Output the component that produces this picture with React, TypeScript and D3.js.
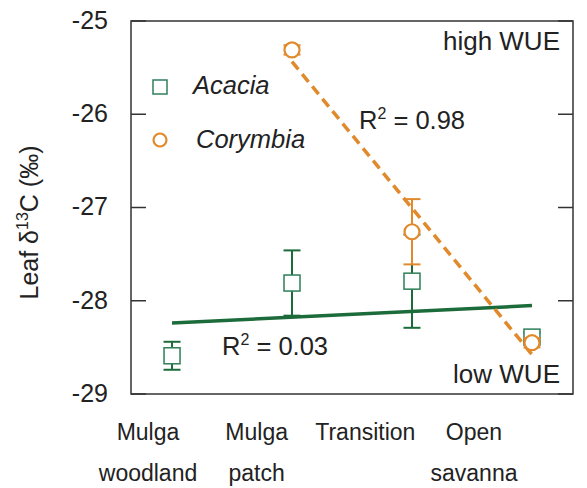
import * as d3 from "d3";

const sites = ["Mulga woodland", "Mulga patch", "Transition", "Open savanna"];
const siteLines = [["Mulga", "woodland"], ["Mulga", "patch"], ["Transition"], ["Open", "savanna"]];

const acaciaMean = [-28.59, -27.81, -27.79, -28.39];
const acaciaErr = [0.15, 0.35, 0.5, 0.05];
const corymbiaSites = ["Mulga patch", "Transition", "Open savanna"];
const corymbiaMean = [-25.31, -27.26, -28.45];
const corymbiaErr = [0.05, 0.35, 0.05];

const yTicks = [-25, -26, -27, -28, -29];

const green = "#1c6b3a";
const greenMarker = "#2f7f58";
const orange = "#e08a2c";
const textCol = "#222";
const font = "Liberation Sans, Arial, sans-serif";

const width = 587, height = 488;
const left = 131, right = 573, top = 21, bottom = 394;

// simple least squares on the site index
function fit(xs: number[], ys: number[]) {
    const mx = d3.mean(xs)!, my = d3.mean(ys)!;
    const num = d3.sum(xs, (x, i) => (x - mx) * (ys[i] - my));
    const den = d3.sum(xs, x => (x - mx) * (x - mx));
    const b = num / den;
    return (x: number) => my + b * (x - mx);
}

export default function App() {
    const x = d3.scalePoint<string>().domain(sites).range([left, right]).padding(0.342);
    const xLab = d3.scalePoint<string>().domain(sites).range([148, 474]);
    const y = d3.scaleLinear().domain([-25, -29]).range([top, bottom]);

    const accIdx = acaciaMean.map((_, i) => i);
    const accFit = fit(accIdx, acaciaMean);
    const corIdx = corymbiaSites.map(s => sites.indexOf(s));
    const corFit = fit(corIdx, corymbiaMean);

    const line = d3.line<number[]>().x(d => x(sites[d[0]])!).y(d => y(d[1]));
    const accLine = line([[0, accFit(0)], [3, accFit(3)]]);
    const corLine = line([[1, corFit(1)], [3, corFit(3)]]);

    const cap = 8.5;
    const sq = 8;

    return (
        <svg width={width} height={height} style={{ position: "absolute", left: 0, top: 0 }} fontFamily={font}>
            <rect x={0} y={0} width={width} height={height} fill="white" />
            {/* frame */}
            <rect x={left} y={top} width={right - left} height={bottom - top} fill="none" stroke="#333" strokeWidth={1.5} />
            {yTicks.map(t => (
                <g key={t}>
                    <line x1={left} x2={left + 15} y1={y(t)} y2={y(t)} stroke="#333" strokeWidth={1.5} />
                    <line x1={right - 15} x2={right} y1={y(t)} y2={y(t)} stroke="#333" strokeWidth={1.5} />
                    <text x={108} y={y(t) - 1} dy="0.35em" textAnchor="end" fontSize={25} fill={textCol}>{t}</text>
                </g>
            ))}
            {siteLines.map((ls, i) => (
                <text key={i} x={xLab(sites[i])} y={440} textAnchor="middle" fontSize={23} fill={textCol}>
                    {ls.map((l, j) => <tspan key={j} x={xLab(sites[i])} dy={j === 0 ? 0 : 41}>{l}</tspan>)}
                </text>
            ))}
            <text transform={`translate(38,${(top + bottom) / 2 + 15}) rotate(-90)`} textAnchor="middle" fontSize={25} fill={textCol}>
                Leaf δ<tspan fontSize={16} dy={-10}>13</tspan><tspan dy={10}>C (‰)</tspan>
            </text>

            <text x={560} y={50} textAnchor="end" fontSize={26} fill={textCol}>high WUE</text>
            <text x={560} y={383} textAnchor="end" fontSize={26} fill={textCol}>low WUE</text>

            {/* regression lines */}
            <path d={accLine!} stroke={green} strokeWidth={3.5} fill="none" />
            <path d={corLine!} stroke={orange} strokeWidth={3.5} fill="none" strokeDasharray="10,6" />

            <text x={359} y={129} fontSize={25.5} fill={textCol}>R<tspan fontSize={16} dy={-10}>2</tspan><tspan dy={10}> = 0.98</tspan></text>
            <text x={222} y={355} fontSize={25.5} fill={textCol}>R<tspan fontSize={16} dy={-10}>2</tspan><tspan dy={10}> = 0.03</tspan></text>

            {/* Acacia */}
            {acaciaMean.map((m, i) => {
                const cx = x(sites[i])!;
                const e = acaciaErr[i];
                return (
                    <g key={"a" + i}>
                        <line x1={cx} x2={cx} y1={y(m + e)} y2={y(m - e)} stroke={green} strokeWidth={2} />
                        <line x1={cx - cap} x2={cx + cap} y1={y(m + e)} y2={y(m + e)} stroke={green} strokeWidth={2} />
                        <line x1={cx - cap} x2={cx + cap} y1={y(m - e)} y2={y(m - e)} stroke={green} strokeWidth={2} />
                        <rect x={cx - sq} y={y(m) - sq} width={sq * 2} height={sq * 2} fill="white" stroke={greenMarker} strokeWidth={1.5} />
                    </g>
                );
            })}
            {/* Corymbia */}
            {corymbiaMean.map((m, i) => {
                const cx = x(corymbiaSites[i])!;
                const e = corymbiaErr[i];
                return (
                    <g key={"c" + i}>
                        <line x1={cx} x2={cx} y1={y(m + e)} y2={y(m - e)} stroke={orange} strokeWidth={2} />
                        <line x1={cx - cap} x2={cx + cap} y1={y(m + e)} y2={y(m + e)} stroke={orange} strokeWidth={2} />
                        <line x1={cx - cap} x2={cx + cap} y1={y(m - e)} y2={y(m - e)} stroke={orange} strokeWidth={2} />
                        <circle cx={cx} cy={y(m)} r={7.5} fill="white" stroke={orange} strokeWidth={2.2} />
                    </g>
                );
            })}

            {/* legend */}
            <rect x={160 - 7} y={87 - 7} width={14} height={14} fill="white" stroke={greenMarker} strokeWidth={1.5} />
            <text x={193} y={94} fontSize={25.5} fontStyle="italic" fill={textCol}>Acacia</text>
            <circle cx={160} cy={140} r={6.5} fill="white" stroke={orange} strokeWidth={2.2} />
            <text x={196} y={148} fontSize={25.5} fontStyle="italic" fill={textCol}>Corymbia</text>
        </svg>
    );
}
